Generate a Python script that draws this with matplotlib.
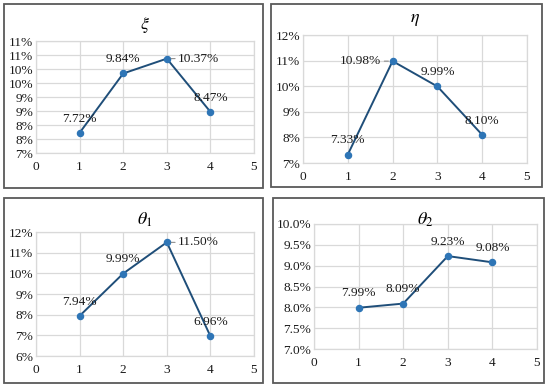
import matplotlib
matplotlib.use("Agg")
import matplotlib.pyplot as plt
from matplotlib.patches import Rectangle
from matplotlib.ticker import FuncFormatter, MultipleLocator

plt.rcParams['font.family'] = ['Liberation Serif', 'DejaVu Serif']
plt.rcParams['mathtext.fontset'] = 'stix'

# data
x_vals = [1, 2, 3, 4]
xi_vals = [7.72, 9.84, 10.37, 8.47]
eta_vals = [7.33, 10.98, 9.99, 8.10]
theta1_vals = [7.94, 9.99, 11.50, 6.96]
theta2_vals = [7.99, 8.09, 9.23, 9.08]

titles = [r'$\xi$', r'$\eta$', r'$\theta_1$', r'$\theta_2$']

LINE = '#1f4e79'
MARK = '#2e75b6'
GRID = '#d9d9d9'
TXT = '#1a1a1a'
FS = 9.6

W, H = 550, 389
fig = plt.figure(figsize=(W / 100, H / 100), dpi=100)


def px_axes(x0, y0, x1, y1):
    return fig.add_axes([x0 / W, 1 - y1 / H, (x1 - x0) / W, (y1 - y0) / H])


def frame(x0, y0, x1, y1):
    fig.patches.append(Rectangle((x0 / W, 1 - y1 / H), (x1 - x0) / W, (y1 - y0) / H,
                                 transform=fig.transFigure, fill=False,
                                 edgecolor='#595959', linewidth=1.3))


def excel_pct(decimals):
    def f(v, pos):
        # excel style half-up rounding
        if decimals == 0:
            return f'{int(v + 0.5 + 1e-9)}%'
        return f'{v:.{decimals}f}%'
    return FuncFormatter(f)


def panel(box, area, vals, title, ylo, yhi, step, decimals, title_y, labels):
    frame(*box)
    ax = px_axes(*area)
    ax.plot(x_vals, vals, color=LINE, linewidth=1.4, marker='o', markersize=4.4,
            markerfacecolor=MARK, markeredgecolor=MARK, zorder=3)
    ax.set_xlim(0, 5)
    ax.set_ylim(ylo, yhi)
    ax.xaxis.set_major_locator(MultipleLocator(1))
    ax.yaxis.set_major_locator(MultipleLocator(step))
    ax.yaxis.set_major_formatter(excel_pct(decimals))
    ax.grid(True, color=GRID, linewidth=0.9)
    ax.set_axisbelow(True)
    for s in ax.spines.values():
        s.set_color(GRID)
        s.set_linewidth(0.9)
    ax.tick_params(length=0, labelsize=FS, colors=TXT, pad=2)
    ax.tick_params(axis='x', pad=6)
    cx = (area[0] + area[2]) / 2
    fig.text(cx / W, 1 - title_y / H, title, ha='center', va='center', fontsize=13)
    for xv, yv, pos in zip(x_vals, vals, labels):
        txt = f'{yv:.2f}%'
        if pos == 'above':
            ax.annotate(txt, (xv, yv), xytext=(0, 6), textcoords='offset points',
                        ha='center', va='bottom', fontsize=FS, color=TXT)
        elif pos == 'right':
            ax.annotate(txt, (xv, yv), xytext=(8, 0), textcoords='offset points',
                        ha='left', va='center', fontsize=FS, color=TXT,
                        arrowprops=dict(arrowstyle='-', color='#7f7f7f', lw=0.7,
                                        shrinkA=0, shrinkB=3))
        else:
            ax.annotate(txt, (xv, yv), xytext=(-8, 0), textcoords='offset points',
                        ha='right', va='center', fontsize=FS, color=TXT,
                        arrowprops=dict(arrowstyle='-', color='#7f7f7f', lw=0.7,
                                        shrinkA=0, shrinkB=3))
    return ax


panel((4, 4, 263, 188), (36, 41, 254, 153), xi_vals, titles[0], 7, 11, 0.5, 0, 25,
      ['above', 'above', 'right', 'above'])
panel((271, 4, 542, 187), (303, 35, 527, 163), eta_vals, titles[1], 7, 12, 1, 0, 19,
      ['above', 'left', 'above', 'above'])
panel((4, 198, 263, 383), (36, 232, 254, 356), theta1_vals, titles[2], 6, 12, 1, 0, 220,
      ['above', 'above', 'right', 'above'])
panel((273, 198, 544, 383), (314, 224, 537, 349), theta2_vals, titles[3], 7, 10, 0.5, 1, 220,
      ['above', 'above', 'above', 'above'])

fig.savefig('out.png', dpi=100)
